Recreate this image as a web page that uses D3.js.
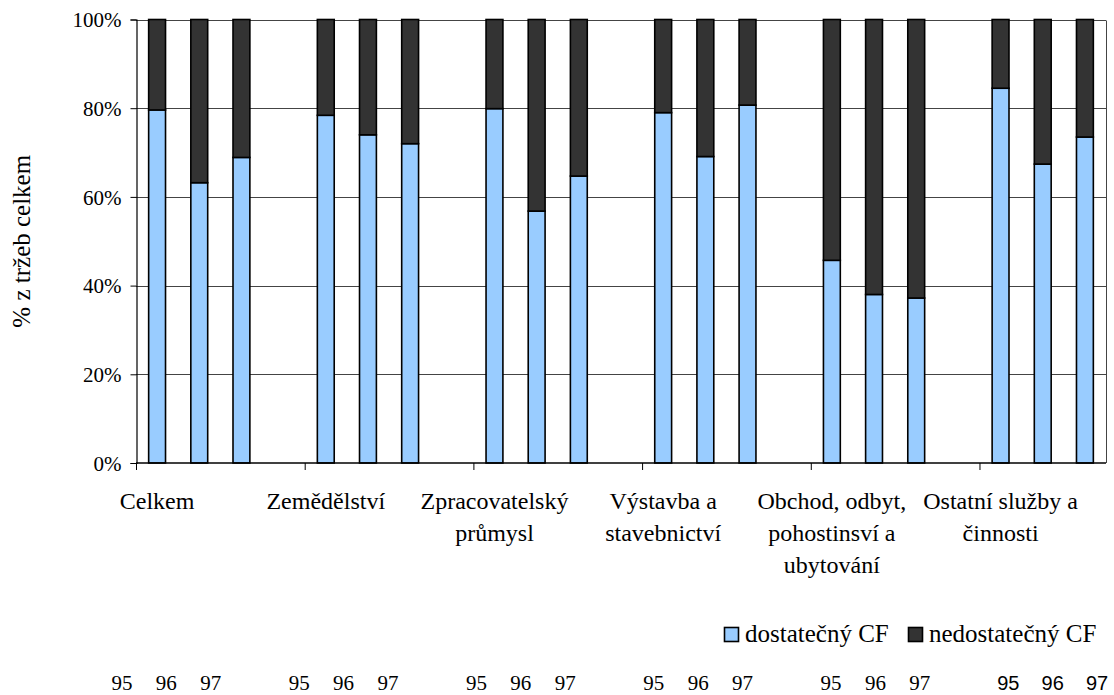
<!DOCTYPE html>
<html>
<head>
<meta charset="utf-8">
<script src="https://cdn.jsdelivr.net/npm/d3@7"></script>
<style>
  html, body { margin: 0; padding: 0; background: #fff; }
  svg { display: block; }
  svg text { font-family: "Liberation Serif", "Times New Roman", Times, Tinos, "DejaVu Serif", serif; fill: #000; }
  svg text.sans { font-family: "Liberation Sans", Arial, Arimo, "DejaVu Sans", sans-serif; }
</style>
</head>
<body>
<svg id="chart" width="1114" height="695"></svg>
<script>
// ---- data ----
const groups = [
  ["Celkem"],
  ["Zemědělství"],
  ["Zpracovatelský", "průmysl"],
  ["Výstavba a", "stavebnictví"],
  ["Obchod, odbyt,", "pohostinsví a", "ubytování"],
  ["Ostatní služby a", "činnosti"]
];
const years = ["95", "96", "97"];
const seriesNames = ["dostatečný CF", "nedostatečný CF"];
const dostatecny = [
  [79.6, 63.2, 68.9],
  [78.4, 74.0, 72.0],
  [79.9, 56.8, 64.7],
  [79.0, 69.1, 80.7],
  [45.7, 38.0, 37.2],
  [84.5, 67.4, 73.5]
];
const nedostatecny = [
  [20.4, 36.8, 31.1],
  [21.6, 26.0, 28.0],
  [20.1, 43.2, 35.3],
  [21.0, 30.9, 19.3],
  [54.3, 62.0, 62.8],
  [15.5, 32.6, 26.5]
];
const yTicks = [0, 20, 40, 60, 80, 100];
const yTickLabels = ["0%", "20%", "40%", "60%", "80%", "100%"];
const yTitle = "% z tržeb celkem";
const colors = ["#99CCFF", "#333333"];

// ---- build slots (3 bars per group, one blank slot between groups) ----
const slots = [];
groups.forEach((g, gi) => {
  years.forEach((yr, yi) => {
    slots.push({ id: gi + "-" + yi, group: gi, year: yr, vals: [dostatecny[gi][yi], nedostatecny[gi][yi]] });
  });
  if (gi < groups.length - 1) slots.push({ id: "gap" + gi, group: gi, blank: true });
});
const slotIds = slots.map(d => d.id);

// ---- layout ----
const svg = d3.select("#chart");
const plot = { left: 136, right: 1106, top: 19.5, bottom: 463 };

const x = d3.scaleBand().domain(slotIds).range([plot.left, plot.right])
  .paddingInner(0.6).paddingOuter(0.3);
const y = d3.scaleLinear().domain([0, 100]).range([plot.bottom, plot.top]);
const step = x.step();
const boundary = i => plot.left + step * i;

// gridlines
svg.append("g").selectAll("line").data(yTicks.filter(t => t > 0)).join("line")
  .attr("x1", plot.left).attr("x2", plot.right)
  .attr("y1", d => Math.round(y(d)) + 0.5).attr("y2", d => Math.round(y(d)) + 0.5)
  .attr("stroke", "#444").attr("stroke-width", 1);

// right border of plot area
svg.append("line")
  .attr("x1", plot.right + 0.5).attr("x2", plot.right + 0.5)
  .attr("y1", Math.round(y(100)) + 0.5).attr("y2", plot.bottom)
  .attr("stroke", "#444").attr("stroke-width", 1);

// bars
const stackData = slots.filter(d => !d.blank);
const barG = svg.append("g");
stackData.forEach(d => {
  let base = 0;
  d.vals.forEach((v, si) => {
    barG.append("rect")
      .attr("x", x(d.id))
      .attr("width", x.bandwidth())
      .attr("y", y(base + v))
      .attr("height", y(base) - y(base + v))
      .attr("fill", colors[si])
      .attr("stroke", "#000")
      .attr("stroke-width", 1.6);
    base += v;
  });
});

// y axis
const yAxis = d3.axisLeft(y).tickValues(yTicks)
  .tickFormat((d, i) => yTickLabels[i]).tickSize(6).tickPadding(9);
const yg = svg.append("g").attr("transform", `translate(${plot.left + 0.5},0)`).call(yAxis);
yg.attr("font-family", null).attr("font-size", null);
yg.select(".domain").attr("stroke", "#000").attr("stroke-width", 1.2);
yg.selectAll(".tick line").attr("stroke", "#000");
yg.selectAll("text").attr("font-size", 21).attr("fill", "#000").attr("dy", "0.35em");

// x axis line and ticks
svg.append("line")
  .attr("x1", plot.left).attr("x2", plot.right)
  .attr("y1", plot.bottom).attr("y2", plot.bottom)
  .attr("stroke", "#000").attr("stroke-width", 1.6);
const xTickIdx = d3.range(0, slots.length, 4);
svg.append("g").selectAll("line").data(xTickIdx).join("line")
  .attr("x1", d => boundary(d) + 0.5).attr("x2", d => boundary(d) + 0.5)
  .attr("y1", plot.bottom).attr("y2", plot.bottom + 7)
  .attr("stroke", "#000").attr("stroke-width", 1);

// category labels, centered on the first bar of each group
const catG = svg.append("g");
groups.forEach((lines, gi) => {
  const cx = x(gi + "-0") + x.bandwidth() / 2;
  const t = catG.append("text").attr("text-anchor", "middle").attr("font-size", 24);
  lines.forEach((ln, li) => {
    t.append("tspan").attr("x", cx).attr("y", 509 + li * 32).text(ln);
  });
});

// y title
svg.append("text")
  .attr("transform", `translate(30,${(plot.top + plot.bottom) / 2}) rotate(-90)`)
  .attr("text-anchor", "middle").attr("font-size", 25)
  .text(yTitle);

// legend
const legend = svg.append("g").attr("transform", "translate(724,627)");
const legX = [0, 184];
seriesNames.forEach((name, i) => {
  const g = legend.append("g").attr("transform", `translate(${legX[i]},0)`);
  g.append("rect").attr("x", 0.5).attr("y", 0.5).attr("width", 14).attr("height", 14)
    .attr("fill", colors[i]).attr("stroke", "#000").attr("stroke-width", 1.6);
  g.append("text").attr("x", 21).attr("y", 15).attr("font-size", 25).text(name);
});

// year row underneath (separate text row, slightly wider spacing than bars)
const yearX = d3.scaleLinear().domain([0, slots.length - 1]).range([122, 1097]);
const yearG = svg.append("g");
slots.forEach((d, i) => {
  if (d.blank) return;
  const last = d.group === groups.length - 1;
  yearG.append("text")
    .attr("class", last ? "sans" : null)
    .attr("x", yearX(i)).attr("y", 690)
    .attr("text-anchor", "middle")
    .attr("font-size", last ? 20 : 21)
    .text(d.year);
});
</script>
</body>
</html>
